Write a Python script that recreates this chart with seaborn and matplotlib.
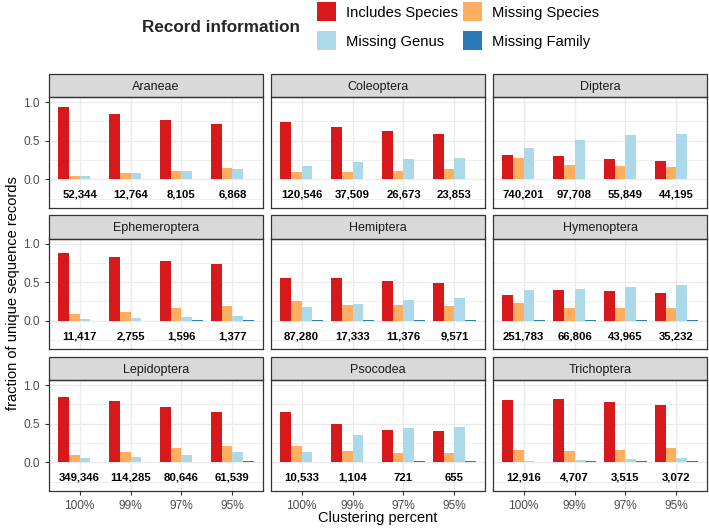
import numpy as np
import pandas as pd
import seaborn as sns
import matplotlib.pyplot as plt
from matplotlib.patches import Rectangle

orders = ['Araneae', 'Coleoptera', 'Diptera',
          'Ephemeroptera', 'Hemiptera', 'Hymenoptera',
          'Lepidoptera', 'Psocodea', 'Trichoptera']
clusters = ['100%', '99%', '97%', '95%']
info_levels = ['Includes Species', 'Missing Species', 'Missing Genus', 'Missing Family']
info_colors = ['#D7191C', '#FDAE61', '#ABD9E9', '#2C7BB6']

# one value per (order, cluster), orders in the order above
includes_species = [0.93, 0.84, 0.77, 0.72,
                    0.74, 0.68, 0.63, 0.59,
                    0.31, 0.30, 0.26, 0.24,
                    0.88, 0.83, 0.77, 0.73,
                    0.55, 0.56, 0.51, 0.49,
                    0.34, 0.40, 0.38, 0.36,
                    0.84, 0.79, 0.71, 0.65,
                    0.65, 0.50, 0.42, 0.40,
                    0.81, 0.82, 0.78, 0.74]
missing_species = [0.04, 0.08, 0.11, 0.14,
                   0.09, 0.10, 0.11, 0.13,
                   0.27, 0.19, 0.17, 0.16,
                   0.09, 0.12, 0.16, 0.19,
                   0.25, 0.21, 0.20, 0.19,
                   0.23, 0.17, 0.16, 0.16,
                   0.10, 0.13, 0.18, 0.21,
                   0.21, 0.14, 0.12, 0.12,
                   0.16, 0.14, 0.16, 0.19]
missing_genus = [0.04, 0.08, 0.11, 0.13,
                 0.17, 0.22, 0.26, 0.28,
                 0.41, 0.51, 0.57, 0.59,
                 0.02, 0.03, 0.05, 0.06,
                 0.18, 0.22, 0.27, 0.30,
                 0.40, 0.41, 0.44, 0.46,
                 0.05, 0.07, 0.10, 0.13,
                 0.13, 0.35, 0.44, 0.46,
                 0.02, 0.03, 0.04, 0.05]
missing_family = [0.003, 0.003, 0.008, 0.01,
                  0.005, 0.005, 0.007, 0.008,
                  0.004, 0.005, 0.006, 0.006,
                  0.002, 0.003, 0.004, 0.005,
                  0.004, 0.004, 0.005, 0.005,
                  0.004, 0.004, 0.004, 0.005,
                  0.007, 0.007, 0.008, 0.016,
                  0.004, 0.004, 0.012, 0.016,
                  0.005, 0.015, 0.016, 0.016]
record_counts = [52344, 12764, 8105, 6868,
                 120546, 37509, 26673, 23853,
                 740201, 97708, 55849, 44195,
                 11417, 2755, 1596, 1377,
                 87280, 17333, 11376, 9571,
                 251783, 66806, 43965, 35232,
                 349346, 114285, 80646, 61539,
                 10533, 1104, 721, 655,
                 12916, 4707, 3515, 3072]

# long table for seaborn
rows = []
for k, (o, c) in enumerate([(o, c) for o in orders for c in clusters]):
    for lvl, vals in zip(info_levels, [includes_species, missing_species,
                                       missing_genus, missing_family]):
        rows.append({'order': o, 'cluster': c, 'info': lvl, 'fraction': vals[k]})
df = pd.DataFrame(rows)

sns.set_style('white')
plt.rcParams['font.family'] = ['Liberation Sans', 'DejaVu Sans']

W, H = 709, 528
fig = plt.figure(figsize=(W / 100, H / 100), dpi=100)

def fx(x):
    return x / W

def fy(y):
    # pixel measured from the top -> figure fraction
    return 1 - y / H

col_left = [49, 271, 493]
panel_w = 214
panel_top = [97, 238.5, 380]
panel_h = 110.5
strip_h = 23.5
dark = '#333333'
grey_text = '#4D4D4D'

for i, o in enumerate(orders):
    r, c = divmod(i, 3)
    left, top = col_left[c], panel_top[r]
    ax = fig.add_axes([fx(left), fy(top + panel_h), panel_w / W, panel_h / H])
    sub = df[df['order'] == o]
    sns.barplot(data=sub, x='cluster', y='fraction', hue='info', order=clusters,
                hue_order=info_levels, palette=info_colors, width=0.85,
                saturation=1, errorbar=None, legend=False, linewidth=0, ax=ax)
    ax.set_xlim(-0.6, 3.6)
    ax.set_ylim(-0.365, 1.065)
    ax.set_yticks([0, 0.5, 1.0])
    ax.set_yticks([-0.25, 0.25, 0.75], minor=True)
    ax.set_yticklabels(['0.0', '0.5', '1.0'])
    ax.set_axisbelow(True)
    ax.grid(True, which='major', color='#EBEBEB', lw=1.0)
    ax.grid(True, which='minor', axis='y', color='#EBEBEB', lw=0.6)
    for sp in ax.spines.values():
        sp.set_color(dark)
        sp.set_linewidth(0.9)
    ax.tick_params(axis='both', which='major', colors=dark, length=3, width=0.8,
                   labelcolor=grey_text, labelsize=8.6,
                   left=(c == 0), labelleft=(c == 0),
                   bottom=(r == 2), labelbottom=(r == 2))
    ax.tick_params(which='minor', length=0)
    ax.set_xlabel('')
    ax.set_ylabel('')
    sub_counts = record_counts[i * 4:(i + 1) * 4]
    for j, n in enumerate(sub_counts):
        ax.text(j, -0.2, f'{n:,}', ha='center', va='center',
                fontsize=8.2, fontweight='bold', color='black')
    # facet strip
    sh = strip_h / panel_h
    ax.add_patch(Rectangle((0, 1), 1, sh, transform=ax.transAxes, clip_on=False,
                           facecolor='#D9D9D9', edgecolor=dark, lw=0.9))
    ax.text(0.5, 1 + sh / 2, o, transform=ax.transAxes, ha='center',
            va='center_baseline', fontsize=9, color='#1A1A1A')

fig.text(fx(378), fy(518), 'Clustering percent', ha='center', va='center',
         fontsize=10.5, color='black')
fig.text(fx(13), fy(293), 'fraction of unique sequence records', ha='center',
         va='center', rotation=90, fontsize=10.5, color='black')

# legend on top: title to the left, keys in two columns
fig.text(fx(300), fy(27.7), 'Record information', ha='right', va='center',
         fontsize=12.3, fontweight='bold')
key_x = [316.5, 463]
key_y = [1.7, 30.7]
key_w, key_h = 19.5, 19.2
for k, (lvl, col) in enumerate(zip(info_levels, info_colors)):
    rr, cc = divmod(k, 2)
    x0, y0 = key_x[cc], key_y[rr]
    fig.patches.append(Rectangle((fx(x0), fy(y0 + key_h)), key_w / W, key_h / H,
                                 transform=fig.transFigure, facecolor=col,
                                 edgecolor='none'))
    fig.text(fx(x0 + key_w + 9.5), fy(y0 + key_h / 2 + 0.5), lvl, ha='left',
             va='center_baseline', fontsize=10.6, color='black')

fig.savefig('out.png', dpi=100)
